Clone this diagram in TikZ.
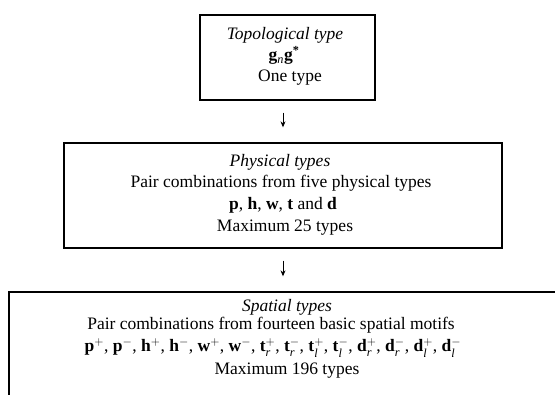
\documentclass[tikz,border=0pt]{standalone}
\usepackage{amsmath}
\usepackage{fontspec}
\setmainfont{Liberation Serif}
\usetikzlibrary{arrows.meta,calc}

% bold motif letter with a sign, and with a sign and a side index
\newcommand{\motif}[2]{\textbf{#1}$^{#2}$}
\newcommand{\sidemotif}[3]{\textbf{#1}$^{#3}_{\textit{#2}}$}

\tikzset{
  frame/.style={draw, line width=1.3pt, inner sep=0pt},
  txt/.style={anchor=base, inner sep=0pt, font=\fontsize{17.5}{21}\selectfont},
  flow/.style={-{Stealth[length=6pt,width=5pt]}, line width=0.9pt}
}

\begin{document}
\begin{tikzpicture}[x=1pt, y=-1pt]
  \clip (0,0) rectangle (555,395);

  % the three levels of classification
  \node[frame, minimum width=175pt, minimum height=85pt] (topo) at (287.5,57.5) {};
  \node[frame, minimum width=438pt, minimum height=105pt] (phys) at (283,195.5) {};
  \node[frame, minimum width=600pt, minimum height=160pt] (spat) at (309,372) {};

  % topological level
  \node[txt] (topoA) at (285,40) {\textit{Topological type}};
  \node[txt] (topoB) at (284,61) {\textbf{g}$_{\textit{n}}$\textbf{g}$^{\textbf{*}}$};
  \node[txt] (topoC) at (290,82) {One type};

  % physical level
  \node[txt] (physA) at (280,167) {\textit{Physical types}};
  \node[txt] (physB) at (281,188) {Pair combinations from five physical types};
  \node[txt] (physC) at (283,210) {\textbf{p}, \textbf{h}, \textbf{w}, \textbf{t} and \textbf{d}};
  \node[txt] (physD) at (285,232) {Maximum 25 types};

  % spatial level
  \node[txt] (spatA) at (287,312) {\textit{Spatial types}};
  \node[txt] (spatB) at (271,330) {Pair combinations from fourteen basic spatial motifs};
  \node[txt] (spatC) at (273,352) {\motif{p}{+}, \motif{p}{-}, \motif{h}{+}, \motif{h}{-},
    \motif{w}{+}, \motif{w}{-}, \sidemotif{t}{r}{+}, \sidemotif{t}{r}{-},
    \sidemotif{t}{l}{+}, \sidemotif{t}{l}{-}, \sidemotif{d}{r}{+}, \sidemotif{d}{r}{-},
    \sidemotif{d}{l}{+}, \sidemotif{d}{l}{-}};
  \node[txt] (spatD) at (287,375) {Maximum 196 types};

  % arrows between the levels
  \coordinate (a1s) at ($(topo.south -| phys.north)+(0,12)$);
  \coordinate (a1e) at ($(phys.north)+(0,-15)$);
  \coordinate (a2s) at ($(phys.south)+(0,12)$);
  \coordinate (a2e) at ($(spat.north -| phys.south)+(0,-15)$);
  \draw[flow] (a1s) -- (a1e);
  \draw[flow] (a2s) -- (a2e);
\end{tikzpicture}
\end{document}
